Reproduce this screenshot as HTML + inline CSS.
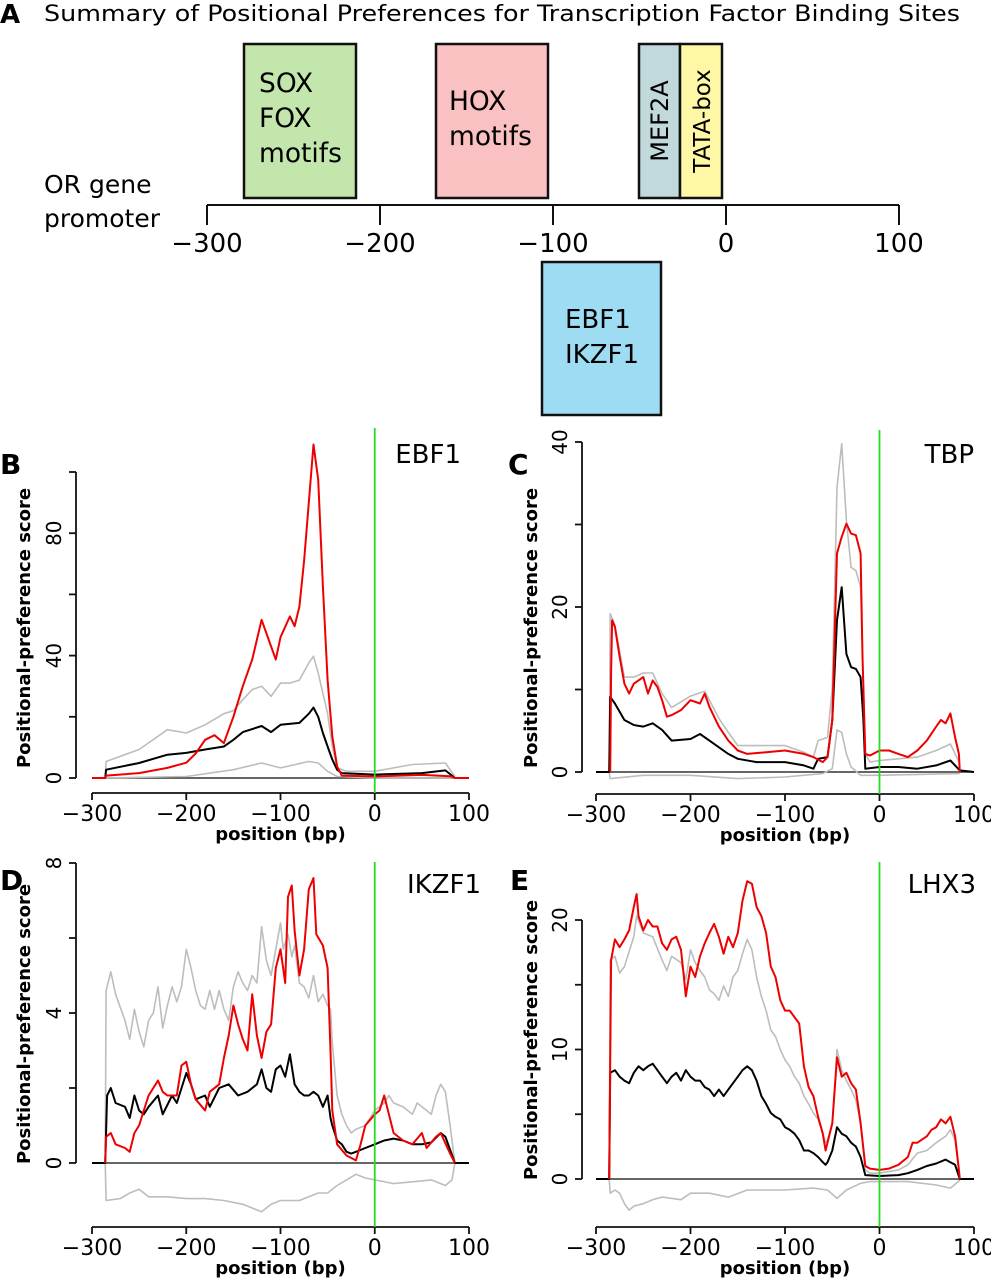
<!DOCTYPE html>
<html><head><meta charset="utf-8">
<style>
html,body{margin:0;padding:0;background:#fff;}
svg{display:block;font-family:"DejaVu Sans","Liberation Sans",sans-serif;}
</style></head>
<body>
<svg id="fig" width="991" height="1280" viewBox="0 0 991 1280" xmlns="http://www.w3.org/2000/svg">
<g id="panelA">
  <text x="0" y="23" font-size="26" font-weight="bold">A</text>
  <text x="44" y="21" font-size="22.5" textLength="916" lengthAdjust="spacingAndGlyphs">Summary of Positional Preferences for Transcription Factor Binding Sites</text>
  <rect x="244" y="44" width="112" height="154" fill="#c3e6ad" stroke="#111" stroke-width="2.5"/>
  <text font-size="26.5"><tspan x="259" y="92">SOX</tspan><tspan x="259" y="127">FOX</tspan><tspan x="259" y="162">motifs</tspan></text>
  <rect x="436" y="44" width="112" height="154" fill="#f9c1c1" stroke="#111" stroke-width="2.5"/>
  <text font-size="26.5"><tspan x="449" y="110">HOX</tspan><tspan x="449" y="145">motifs</tspan></text>
  <rect x="639" y="44" width="41" height="154" fill="#c2d9dc" stroke="#111" stroke-width="2.5"/>
  <text font-size="24" transform="translate(668,121) rotate(-90)" text-anchor="middle">MEF2A</text>
  <rect x="680" y="44" width="42" height="154" fill="#fdf7a6" stroke="#111" stroke-width="2.5"/>
  <text font-size="23" transform="translate(710,121) rotate(-90)" text-anchor="middle">TATA-box</text>
  <rect x="542" y="262" width="119" height="153" fill="#9ddcf2" stroke="#111" stroke-width="2.5"/>
  <text font-size="26"><tspan x="565" y="328">EBF1</tspan><tspan x="565" y="363">IKZF1</tspan></text>
  <text font-size="25"><tspan x="44" y="193">OR gene</tspan><tspan x="44" y="227">promoter</tspan></text>
  <g id="axisA"></g>
</g>
<g id="plots"></g>
</svg>
<script>
// ---------- Panel A data ----------
const promoterTicks = [-300, -200, -100, 0, 100];

// ---------- EBF1 (panel B) ----------
const ebf1RedX = [-300,-286,-285,-250,-220,-200,-190,-180,-170,-160,-155,-150,-140,-130,-120,-110,-105,-100,-90,-85,-80,-75,-70,-65,-60,-55,-50,-45,-40,-35,0,50,80,85,100];
const ebf1RedY = [0,0,0.8,1.6,3.3,5,8,12.5,14,11.4,15.8,20,30,38.7,51.7,43,38.7,46,52.8,49.6,56,71,90,109,97.5,62.6,32,13.6,3.8,0.8,0.5,1.0,0.6,0,0];
const ebf1BlackX = [-300,-286,-285,-250,-220,-200,-180,-160,-150,-140,-120,-110,-100,-80,-70,-65,-60,-55,-50,-45,-40,-35,0,50,75,85,100];
const ebf1BlackY = [0,0,2.7,4.9,7.6,8.2,9.3,10.3,12.5,15,17,15,17.4,18,21,23,20,14.7,10.3,6,2.7,1.6,1.1,1.6,2.5,0,0];
const ebf1UpperX = [-286,-285,-250,-220,-200,-180,-160,-150,-140,-130,-120,-110,-100,-90,-80,-70,-65,-60,-50,-45,-40,-30,0,40,75,85];
const ebf1UpperY = [0,5.4,9.3,15.8,14.7,17.4,21,22,25.6,28.9,30,26.7,31,31,32,37.6,39.8,34.3,21,10.3,3.3,2.2,2.2,4.4,4.9,0.5];
const ebf1LowerX = [-286,-200,-150,-120,-100,-70,-60,-50,-40,0,85];
const ebf1LowerY = [0,0.5,2.7,4.9,3.3,5.4,4.9,2.2,0.5,0,0];

// ---------- TBP (panel C) ----------
const tbpRedX = [-285,-284,-283,-280,-275,-270,-265,-260,-250,-245,-240,-235,-230,-225,-220,-210,-200,-190,-185,-180,-170,-160,-150,-140,-120,-100,-80,-70,-60,-55,-50,-47,-45,-40,-35,-30,-25,-20,-18,-15,-10,0,10,20,30,40,50,60,65,70,75,80,84,85];
const tbpRedY = [0,12,18.4,17.6,14,10.7,9.5,10.7,11.5,9.5,11.1,10.3,8.7,6.7,6.9,7.5,8.7,8.3,9.5,7.9,5.5,3.8,2.6,2.2,2.4,2.6,2.2,1.8,1.2,1.8,6.3,18.4,26.5,28.5,30.1,28.9,28.7,26.5,14,2.2,2,2.6,2.6,2.2,1.8,2.6,3.8,5.5,6.3,5.9,7.1,4.2,2.2,0];
const tbpBlackX = [-300,-286,-285,-280,-270,-260,-250,-240,-230,-220,-200,-190,-180,-170,-160,-150,-130,-100,-80,-70,-65,-55,-50,-45,-40,-35,-30,-25,-20,-17,-15,0,20,40,60,75,85,100];
const tbpBlackY = [0,0,9.1,8.3,6.3,5.7,5.5,5.9,5.1,3.8,4.0,4.6,3.8,3.0,2.2,1.6,1.2,1.2,0.8,0.4,1.6,1.8,6.3,18.4,22.4,14.3,12.7,12.5,11.5,6.3,0.4,0.6,0.6,0.4,0.8,1.4,0.2,0];
const tbpUpperX = [-286,-285,-280,-270,-260,-250,-240,-230,-220,-200,-185,-170,-160,-150,-120,-100,-80,-70,-65,-55,-50,-45,-40,-35,-30,-25,-20,-15,-10,0,40,60,75,85];
const tbpUpperY = [0,19.2,17.8,11.5,11.5,12,12,9.5,7.8,9.2,9.8,6.5,4.8,3.2,3.2,3.2,2.4,1.8,3.8,4.2,10.3,34.5,39.8,30.5,24.8,24.4,22.4,2.2,1.2,1.4,1.8,2.6,3.4,1];
const tbpLowerX = [-286,-285,-250,-200,-150,-100,-60,-50,-45,-40,-35,-30,-20,0,85];
const tbpLowerY = [0,-0.8,-0.4,-0.4,-0.8,-0.6,-0.2,0.4,5.1,4.8,2.2,0.6,-0.4,-0.4,-0.2];

// ---------- IKZF1 (panel D) ----------
const ikzf1RedX = [-286,-285,-280,-275,-265,-260,-255,-250,-245,-240,-230,-225,-220,-210,-205,-200,-195,-190,-180,-175,-165,-160,-155,-150,-145,-140,-135,-130,-125,-120,-115,-110,-105,-100,-95,-92,-88,-85,-80,-75,-70,-65,-62,-55,-50,-47,-45,-40,-30,-20,-15,-10,0,5,10,15,20,30,40,50,55,65,70,80,85];
const ikzf1RedY = [0,0.7,0.8,0.5,0.4,0.3,0.8,1.0,1.4,1.8,2.2,1.9,1.8,1.8,2.6,2.7,2.1,1.7,1.4,1.9,2.1,2.8,3.4,4.2,3.7,3.3,3.0,4.5,3.4,2.8,3.5,3.7,5.2,5.7,4.8,7.1,7.4,6.2,5.0,5.7,7.3,7.6,6.1,5.8,5.2,3.0,1.4,0.5,0.2,0.07,0.5,1.0,1.3,1.4,1.8,1.3,0.8,0.6,0.5,0.8,0.4,0.7,0.8,0.25,0];
const ikzf1BlackX = [-300,-286,-284,-280,-275,-265,-260,-255,-250,-245,-240,-230,-225,-215,-210,-200,-195,-190,-180,-175,-165,-155,-145,-135,-125,-120,-115,-110,-105,-100,-95,-90,-85,-80,-75,-70,-65,-60,-55,-50,-47,-45,-40,-35,-30,-25,-20,-10,0,10,20,30,40,50,60,70,75,85,100];
const ikzf1BlackY = [0,0,1.8,2.0,1.6,1.5,1.2,1.8,1.4,1.3,1.5,1.8,1.3,1.8,1.6,2.4,2.1,1.7,1.8,1.5,2.0,2.1,1.8,1.9,2.1,2.5,2.0,1.9,2.5,2.6,2.3,2.9,2.1,1.9,1.8,1.8,1.9,1.8,1.5,1.8,1.2,1.0,0.6,0.5,0.3,0.25,0.3,0.4,0.5,0.6,0.65,0.6,0.5,0.5,0.55,0.8,0.7,0,0];
const ikzf1UpperX = [-286,-285,-280,-275,-265,-260,-255,-250,-245,-240,-235,-230,-225,-220,-215,-210,-205,-200,-195,-190,-185,-180,-175,-170,-165,-160,-155,-150,-145,-140,-135,-130,-125,-120,-115,-110,-105,-100,-97,-92,-88,-85,-80,-75,-70,-65,-60,-55,-50,-47,-45,-40,-35,-30,-25,-20,-10,0,10,15,20,30,40,45,55,60,65,70,75,80,85];
const ikzf1UpperY = [0,4.6,5.1,4.5,3.8,3.3,4.1,3.5,3.1,3.8,4.0,4.7,3.6,4.2,4.7,4.3,4.7,5.7,5.2,4.6,4.2,4.1,4.6,4.1,4.6,4.1,3.8,4.7,5.1,4.8,4.6,5.0,4.8,6.3,5.4,5.0,5.7,6.4,5.7,6.1,5.5,5.8,4.8,4.7,4.4,5.0,4.3,4.5,4.2,4.1,3.2,1.8,1.3,1.0,0.8,0.9,1.0,1.4,1.6,1.8,1.6,1.5,1.3,1.6,1.4,1.3,1.8,2.1,1.9,1.0,0];
const ikzf1LowerX = [-286,-285,-270,-260,-250,-240,-220,-200,-180,-160,-140,-120,-110,-100,-80,-60,-50,-40,-30,-20,-10,0,20,40,60,75,82,85];
const ikzf1LowerY = [0,-1.0,-0.95,-0.8,-0.7,-0.9,-0.9,-0.95,-0.95,-1.0,-1.1,-1.3,-1.1,-1.0,-1.0,-0.8,-0.8,-0.6,-0.45,-0.3,-0.4,-0.45,-0.55,-0.5,-0.45,-0.6,-0.45,0];

// ---------- LHX3 (panel E) ----------
const lhx3RedX = [-286,-284,-280,-275,-270,-265,-260,-257,-255,-250,-245,-240,-235,-230,-225,-220,-215,-210,-207,-205,-200,-195,-190,-185,-180,-175,-170,-165,-160,-155,-150,-145,-140,-135,-130,-125,-120,-115,-110,-105,-100,-95,-90,-85,-80,-75,-70,-65,-60,-57,-55,-50,-45,-40,-35,-30,-25,-20,-15,-10,0,10,20,30,35,40,50,55,60,65,70,75,80,84,85];
const lhx3RedY = [0,16.9,18.5,17.9,18.5,19.2,21,22,20.3,19.2,20,19.5,19.5,18.2,17.7,18.5,18.7,17.7,15.6,14.1,16.4,15.6,17.2,18.2,19,19.7,18.7,17.4,18.7,17.9,19,21.5,23,22.8,21,20.3,19,16.4,15.6,13.8,13,13,12.5,12,8.7,7.1,6.4,4.8,3.5,2.2,2.8,4.3,9.4,7.9,8.2,7.4,6.9,4.3,1,0.8,0.7,0.8,1.1,1.7,2.8,2.8,3.3,3.8,4.0,4.6,4.3,4.8,3.3,0.7,0];
const lhx3UpperX = [-286,-285,-280,-275,-270,-260,-257,-250,-240,-230,-225,-220,-210,-205,-200,-195,-190,-185,-180,-175,-170,-165,-160,-155,-150,-145,-140,-135,-130,-125,-120,-115,-110,-105,-100,-95,-90,-85,-80,-75,-70,-65,-60,-57,-55,-50,-45,-40,-35,-30,-25,-20,-15,-10,0,20,30,40,50,60,70,75,80,85];
const lhx3UpperY = [0,16.9,17.2,15.9,16.4,18.7,20.3,19,18.7,16.9,16.1,17.2,16.7,15.4,17.7,16.7,16.1,15.6,14.6,14.3,13.8,14.9,14.1,15.6,16.1,17.4,18.5,17.7,15.6,14.1,13,11.5,11,10,9.2,8.7,7.9,7.4,6.4,5.8,5.1,4.6,3.5,2.8,3,4.3,10,8.4,7.6,6.9,6.1,4.3,0.7,0.45,0.45,0.7,1.1,2.0,2.2,2.8,3.3,3.8,3.0,0];
const lhx3BlackX = [-300,-286,-285,-280,-275,-270,-265,-260,-255,-250,-245,-240,-235,-230,-225,-220,-215,-210,-205,-200,-195,-190,-185,-180,-175,-170,-165,-160,-155,-150,-145,-140,-135,-130,-125,-120,-115,-110,-105,-100,-95,-90,-85,-80,-75,-70,-65,-60,-57,-55,-50,-45,-40,-35,-30,-25,-20,-15,0,20,30,40,50,60,70,75,80,85,100];
const lhx3BlackY = [0,0,8.2,8.4,7.9,7.6,7.4,8.2,8.7,8.4,8.7,8.9,8.4,7.9,7.4,7.9,8.2,7.6,8.4,7.9,7.6,7.6,7.1,6.9,6.4,6.9,6.4,6.9,7.4,7.9,8.4,8.7,8.4,7.6,6.4,5.8,5.1,4.8,4.6,4.0,3.8,3.5,3,2.2,2.2,2.0,1.7,1.3,1.1,1.3,2.2,4.0,3.5,3.3,2.8,2.5,1.7,0.3,0.23,0.3,0.45,0.7,1.0,1.2,1.5,1.3,1.1,0,0];
const lhx3LowerX = [-286,-285,-280,-275,-270,-265,-260,-250,-240,-230,-210,-200,-180,-160,-140,-120,-100,-70,-55,-45,-35,-20,-10,0,30,60,75,85];
const lhx3LowerY = [0,-1.1,-0.85,-1.1,-1.9,-2.4,-2.1,-1.9,-1.6,-1.4,-1.6,-1.1,-1.1,-1.4,-0.85,-0.85,-0.85,-0.7,-0.85,-1.5,-0.85,-0.33,-0.2,-0.2,-0.2,-0.46,-0.7,-0.1];

const xTickLabels = ['\u2212300','\u2212200','\u2212100','0','100'];
const xTickValues = [-300,-200,-100,0,100];
const ebf1YTicks = [0,20,40,60,80,100];
const ebf1YLabels = ['0','','40','','80',''];
const tbpYTicks = [0,10,20,30,40];
const tbpYLabels = ['0','','20','','40'];
const ikzf1YTicks = [0,2,4,6,8];
const ikzf1YLabels = ['0','','4','','8'];
const lhx3YTicks = [0,5,10,15,20];
const lhx3YLabels = ['0','','10','','20'];

const NS = 'http://www.w3.org/2000/svg';
function mk(tag, attrs, parent){
  const e = document.createElementNS(NS, tag);
  for (const k in attrs) e.setAttribute(k, attrs[k]);
  parent.appendChild(e);
  return e;
}

(function(){
  const g = document.getElementById('axisA');
  const sx = v => 207 + (v + 300) * 1.73;
  const ln = mk('line', {x1: sx(-300), x2: sx(100), y1: 205, y2: 205, stroke: '#111', 'stroke-width': 2}, g);
  
  
  promoterTicks.forEach((v, i) => {
    const t = mk('line', {x1: sx(v), x2: sx(v), y1: 205, y2: 225, stroke: '#111', 'stroke-width': 2}, g);
    
    
    const tx = mk('text', {x: sx(v), y: 252, 'font-size': 26, 'text-anchor': 'middle'}, g);
    tx.textContent = xTickLabels[i];
    
    
  });
})();

function drawPanel(cfg){
  const root = document.getElementById('plots');
  const g = mk('g', {}, root);
  
  
  const sx = v => cfg.x0 + (v + 300) * (cfg.x100 - cfg.x0) / 400;
  const sy = v => cfg.y0 - v * cfg.ypx;
  const L = mk('text', {x: cfg.letterX, y: cfg.letterY, 'font-size': 28, 'font-weight': 'bold'}, g);
  L.textContent = cfg.letter;
  
  
  const yt = mk('text', {transform: `translate(${cfg.yTitleX},${cfg.yTitleY}) rotate(-90)`, 'font-size': 18, 'font-weight': 'bold', 'text-anchor': 'middle'}, g);
  yt.textContent = 'Positional-preference score';
  
  
  const yTop = sy(cfg.yTicks[cfg.yTicks.length - 1]);
  const ya = mk('line', {x1: cfg.yAxisX, x2: cfg.yAxisX, y1: yTop, y2: sy(0), stroke: '#111', 'stroke-width': 1.8}, g);
  
  
  cfg.yTicks.forEach((v, i) => {
    const t = mk('line', {x1: cfg.yAxisX - 7, x2: cfg.yAxisX, y1: sy(v), y2: sy(v), stroke: '#111', 'stroke-width': 1.8}, g);
    
    
    if (cfg.yLabels[i]) {
      const tx = mk('text', {transform: `translate(${cfg.yAxisX - 15},${sy(v)}) rotate(-90)`, 'font-size': 20, 'text-anchor': 'middle'}, g);
      tx.textContent = cfg.yLabels[i];
      
      
    }
  });
  const xa = mk('line', {x1: sx(-300), x2: sx(100), y1: cfg.xAxisY, y2: cfg.xAxisY, stroke: '#111', 'stroke-width': 1.8}, g);
  
  
  xTickValues.forEach((v, i) => {
    const t = mk('line', {x1: sx(v), x2: sx(v), y1: cfg.xAxisY, y2: cfg.xAxisY + 7, stroke: '#111', 'stroke-width': 1.8}, g);
    
    
    const tx = mk('text', {x: sx(v), y: cfg.xAxisY + 28, 'font-size': 22, 'text-anchor': 'middle'}, g);
    tx.textContent = xTickLabels[i];
    
    
  });
  const xt = mk('text', {x: sx(-100), y: cfg.xAxisY + 47, 'font-size': 18, 'font-weight': 'bold', 'text-anchor': 'middle'}, g);
  xt.textContent = 'position (bp)';
  
  
  const bl = mk('line', {x1: sx(-300), x2: sx(100), y1: sy(0), y2: sy(0), stroke: '#333', 'stroke-width': 1.5}, g);
  
  
  const series = [
    [cfg.lower, '#bdbdbd', 1.6, 'lower-null-line'],
    [cfg.upper, '#bdbdbd', 1.6, 'upper-null-line'],
    [cfg.black, '#000', 2, 'background-score-line'],
    [cfg.red, '#ee0000', 2, 'or-promoter-score-line']
  ];
  series.forEach(s => {
    const xs = s[0][0], ys = s[0][1];
    const d = xs.map((x, i) => (i ? 'L' : 'M') + sx(x).toFixed(1) + ',' + sy(ys[i]).toFixed(1)).join(' ');
    const p = mk('path', {d: d, fill: 'none', stroke: s[1], 'stroke-width': s[2], 'stroke-linejoin': 'round'}, g);
    
    
  });
  const gl = mk('line', {x1: sx(0), x2: sx(0), y1: cfg.greenTop, y2: cfg.xAxisY, stroke: '#22dd22', 'stroke-width': 1.8}, g);
  
  
  const gn = mk('text', {x: cfg.nameX, y: cfg.nameY, 'font-size': 26, 'text-anchor': 'end'}, g);
  gn.textContent = cfg.title;
  
  
}

drawPanel({name:'panel-b-ebf1', letter:'B', letterX:0, letterY:474, title:'EBF1', nameX:461, nameY:463,
  x0:92, x100:469, y0:778, ypx:3.06, yAxisX:76, xAxisY:793, greenTop:428,
  yTicks:ebf1YTicks, yLabels:ebf1YLabels, yTitleX:30, yTitleY:628,
  red:[ebf1RedX,ebf1RedY], black:[ebf1BlackX,ebf1BlackY], upper:[ebf1UpperX,ebf1UpperY], lower:[ebf1LowerX,ebf1LowerY]});
drawPanel({name:'panel-c-tbp', letter:'C', letterX:508, letterY:474, title:'TBP', nameX:974, nameY:463,
  x0:596, x100:974, y0:772, ypx:8.25, yAxisX:582, xAxisY:794, greenTop:430,
  yTicks:tbpYTicks, yLabels:tbpYLabels, yTitleX:537, yTitleY:628,
  red:[tbpRedX,tbpRedY], black:[tbpBlackX,tbpBlackY], upper:[tbpUpperX,tbpUpperY], lower:[tbpLowerX,tbpLowerY]});
drawPanel({name:'panel-d-ikzf1', letter:'D', letterX:0, letterY:890, title:'IKZF1', nameX:481, nameY:893,
  x0:92, x100:469, y0:1163, ypx:37.5, yAxisX:76, xAxisY:1227, greenTop:862,
  yTicks:ikzf1YTicks, yLabels:ikzf1YLabels, yTitleX:30, yTitleY:1024,
  red:[ikzf1RedX,ikzf1RedY], black:[ikzf1BlackX,ikzf1BlackY], upper:[ikzf1UpperX,ikzf1UpperY], lower:[ikzf1LowerX,ikzf1LowerY]});
drawPanel({name:'panel-e-lhx3', letter:'E', letterX:510, letterY:890, title:'LHX3', nameX:976, nameY:893,
  x0:596, x100:974, y0:1179, ypx:12.95, yAxisX:582, xAxisY:1227, greenTop:862,
  yTicks:lhx3YTicks, yLabels:lhx3YLabels, yTitleX:537, yTitleY:1040,
  red:[lhx3RedX,lhx3RedY], black:[lhx3BlackX,lhx3BlackY], upper:[lhx3UpperX,lhx3UpperY], lower:[lhx3LowerX,lhx3LowerY]});
</script>
</body></html>
